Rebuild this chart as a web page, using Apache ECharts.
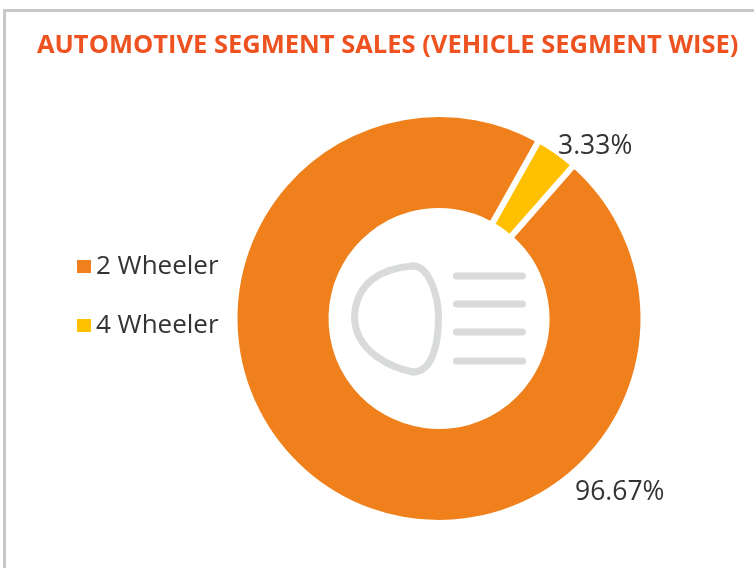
<!DOCTYPE html>
<html><head><meta charset="utf-8">
<style>html,body{margin:0;padding:0;background:#fff}#c{width:754px;height:568px}</style>
<script src="https://cdn.jsdelivr.net/npm/echarts@6/dist/echarts.min.js"></script>
</head><body><div id="c"></div>
<script>
const categories = ['2 Wheeler', '4 Wheeler'];
const shares = [96.67, 3.33];
const sliceColors = ['#F0801C', '#FFC000'];
const titleText = 'AUTOMOTIVE SEGMENT SALES (VEHICLE SEGMENT WISE)';
const labelSpots = [{x: 575, y: 492}, {x: 558, y: 146}];

const chart = echarts.init(document.getElementById('c'), null, {renderer: 'canvas'});
const lampCurves = [
  [413, 266, 428, 265, 438.5, 295, 438.5, 317],
  [438.5, 317, 438.5, 345, 432, 372, 413, 372],
  [413, 372, 392, 368, 355, 352, 354.5, 317],
  [354.5, 317, 356, 280, 385, 268, 413, 266]
].map(c => ({
  type: 'bezierCurve', silent: true,
  shape: {x1: c[0], y1: c[1], cpx1: c[2], cpy1: c[3], cpx2: c[4], cpy2: c[5], x2: c[6], y2: c[7]},
  style: {fill: 'none', stroke: '#D9DADA', lineWidth: 7, lineCap: 'round'}
}));
const bars = [276, 304, 332, 361].map(y => ({
  type: 'line', silent: true,
  shape: {x1: 456.5, y1: y, x2: 522.5, y2: y},
  style: {stroke: '#D9DADA', lineWidth: 7, lineCap: 'round'}
}));
chart.setOption({
  animation: false,
  backgroundColor: '#fff',
  title: {
    text: titleText, left: 32, top: 28,
    textStyle: {fontFamily: 'Open Sans', fontWeight: 'bold', fontSize: 25.5, color: '#EE5220'}
  },
  legend: {
    orient: 'vertical', left: 70, top: 248.5, icon: 'rect',
    itemWidth: 16, itemHeight: 15, itemGap: 33,
    textStyle: {fontFamily: 'Open Sans', fontSize: 26, color: '#333333', padding: [0, 0, 0, -1]},
    data: categories
  },
  graphic: [
    {type: 'polyline', silent: true, shape: {points: [[4.5, 568], [4.5, 10.5], [754, 10.5]]},
     style: {fill: 'none', stroke: '#C8C8C8', lineWidth: 3}},
    ...lampCurves,
    ...bars
  ],
  series: [{
    type: 'pie',
    center: [439, 318.5], radius: [107.5, 204.5],
    startAngle: 48.7, clockwise: true,
    itemStyle: {borderColor: '#fff', borderWidth: 6},
    label: {show: true, position: 'outside', formatter: p => p.value.toFixed(2) + '%',
      fontFamily: 'Open Sans', fontSize: 26.5, color: '#333333'},
    labelLine: {show: false},
    labelLayout: p => ({x: labelSpots[p.dataIndex].x, y: labelSpots[p.dataIndex].y, align: 'left', verticalAlign: 'middle'}),
    data: categories.map((n, i) => ({name: n, value: shares[i], itemStyle: {color: sliceColors[i]}}))
  }]
});
</script></body></html>
